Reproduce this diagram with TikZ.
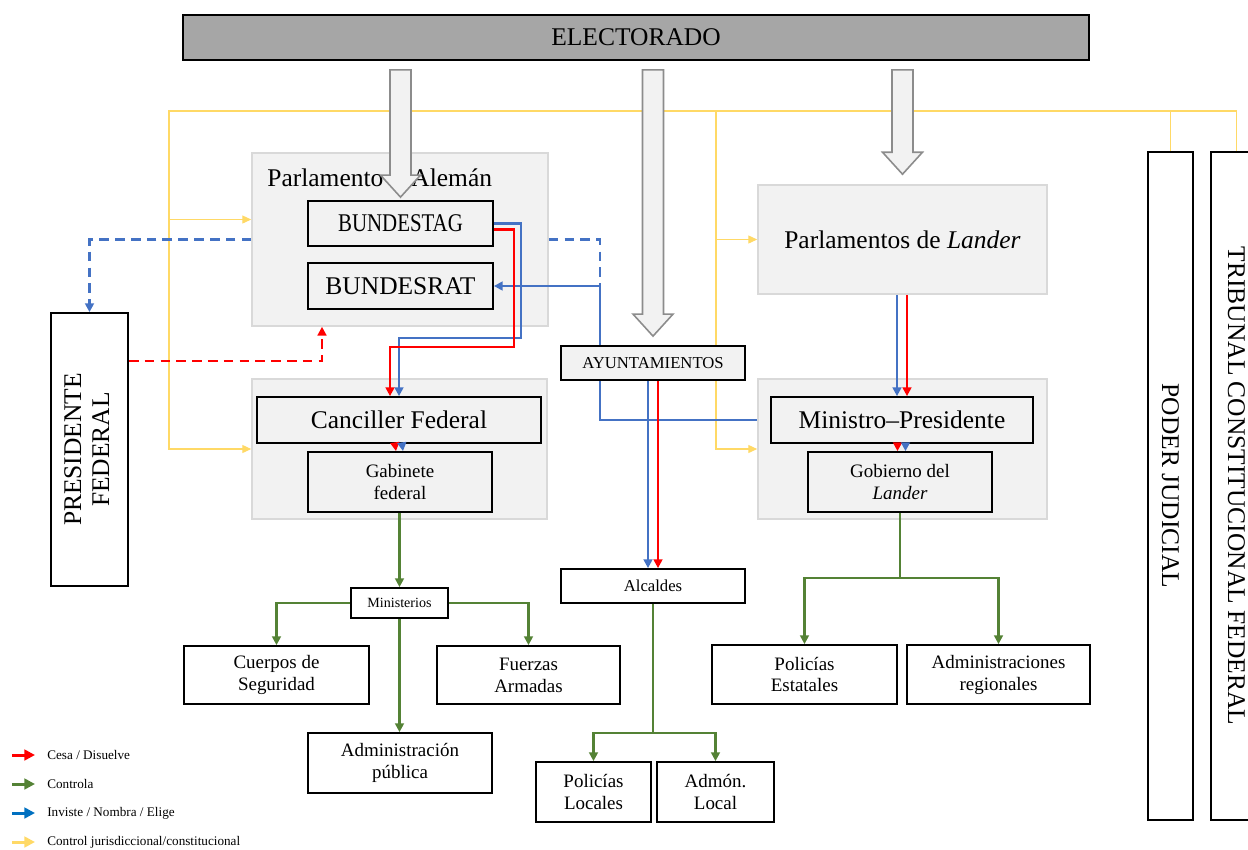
\documentclass[tikz,border=0pt]{standalone}
\usepackage{fontspec}
\setmainfont{Liberation Serif}
\usepackage{graphicx}
\usetikzlibrary{arrows.meta,calc,positioning}

\definecolor{invblue}{HTML}{4472C4}
\definecolor{legblue}{HTML}{0070C0}
\definecolor{cesred}{HTML}{FF0000}
\definecolor{ctlgreen}{HTML}{548235}
\definecolor{jurgold}{HTML}{FFD966}
\definecolor{grpfill}{HTML}{F2F2F2}
\definecolor{grpline}{HTML}{D9D9D9}
\definecolor{elecgray}{HTML}{A6A6A6}
\definecolor{arrgray}{HTML}{8C8C8C}

% hollow block arrow from ELECTORADO down to a node
\newcommand{\bigarrow}[2]{%
  \path ($(#1.north)+(0,-#2)$) coordinate (batip)
        (elect.south -| batip) ++(0,9) coordinate (batop);
  \draw[bigarr] ($(batop)+(-10.5,0)$) |- ($(batip)+(-20,-22)$) -- (batip)
        -- ($(batip)+(20,-22)$) -| ($(batop)+(10.5,0)$) -- cycle;}

\begin{document}
\begin{tikzpicture}[
    x=0.02cm, y=-0.02cm,
    span/.style args={(#1,#2)(#3,#4)}{at={({(#1+#3)/2},{(#2+#4)/2})},
        minimum width={(#3-#1)*0.02cm}, minimum height={(#4-#2)*0.02cm}},
    txtL/.style={font=\fontsize{14.5}{16}\selectfont},
    txtM/.style={font=\fontsize{10.8}{12.5}\selectfont},
    txtS/.style={font=\fontsize{9.5}{11}\selectfont},
    txtXS/.style={font=\fontsize{8}{9}\selectfont},
    grpbox/.style={rectangle, draw=grpline, fill=grpfill, line width=0.9pt, inner sep=0pt, align=center},
    box/.style={rectangle, draw=black, fill=white, line width=1pt, inner sep=0pt, align=center},
    gbox/.style={box, fill=grpfill},
    lnk/.style={line width=1.3pt, -{Triangle[length=5pt,width=5pt]}},
    inv/.style={lnk, draw=invblue},
    ces/.style={lnk, draw=cesred},
    ctl/.style={lnk, draw=ctlgreen},
    jur/.style={line width=0.6pt, draw=jurgold, -{Triangle[length=5pt,width=4.5pt]}},
    dsh/.style={dash pattern=on 5.5pt off 3.5pt},
    bigarr/.style={draw=arrgray, fill=grpfill, line width=0.9pt},
    legtxt/.style={font=\fontsize{7.5}{9}\selectfont, anchor=west, inner sep=0pt},
    legarr/.style={line width=1.7pt, -{Triangle[length=6pt,width=6pt]}}
]
\useasboundingbox (0,0) rectangle (1248,849);

% electorate
\node[box, txtL, fill=elecgray, span={(183,15)(1089,60)}] (elect) {ELECTORADO};

% federal level
\node[grpbox, span={(252,153)(548,326)}] (parl) {};
\node[txtL, anchor=base west, inner sep=0pt] (parltxt) at (267,186) {Parlamento\hspace{1.1em}Alemán};
\node[gbox, txtL, span={(308,201)(493,246)}] (bundestag) {\scalebox{0.82}[1]{BUNDESTAG}};
\node[gbox, txtL, span={(308,263)(493,309)}] (bundesrat) {BUNDESRAT};
\node[grpbox, span={(252,379)(547,519)}] (cancgrp) {};
\node[gbox, txtL, span={(257,397)(541,443)}] (canc) {Canciller Federal};
\node[gbox, txtM, span={(308,452)(492,512)}] (gab) {Gabinete\\federal};
\node[box, txtXS, span={(351,588)(448,618)}] (minis) {Ministerios};
\node[box, txtM, span={(184,646)(369,704)}] (cuerpos) {Cuerpos de\\Seguridad};
\node[box, txtM, span={(437,646)(620,704)}] (fuerzas) {Fuerzas\\Armadas};
\node[box, txtM, span={(308,733)(492,793)}] (admpub) {Administración\\pública};
\node[box, txtL, span={(51,313)(128,586)}] (pres) {\rotatebox{90}{\begin{tabular}{@{}c@{}}PRESIDENTE\\FEDERAL\end{tabular}}};

% local level
\node[box, txtS, span={(561,569)(745,603)}] (alcaldes) {Alcaldes};
\node[box, txtM, span={(536,762)(651,822)}] (polloc) {Policías\\Locales};
\node[box, txtM, span={(657,762)(774,822)}] (admloc) {Admón.\\Local};

% state level
\node[grpbox, txtL, span={(758,185)(1047,294)}] (plander) {Parlamentos de \textit{Lander}};
\node[grpbox, span={(758,379)(1047,519)}] (mingrp) {};
\node[gbox, txtL, span={(771,397)(1033,443)}] (minpres) {Ministro--Presidente};
\node[gbox, txtM, span={(808,452)(992,512)}] (gob) {Gobierno del\\\textit{Lander}};
\node[box, txtM, span={(712,645)(897,704)}] (polest) {Policías\\Estatales};
\node[box, txtM, span={(907,645)(1090,704)}] (admreg) {Administraciones\\regionales};

% judiciary
\node[box, txtL, span={(1148,152)(1193,820)}] (poder) {\rotatebox{-90}{PODER JUDICIAL}};
\node[box, txtL, span={(1211,152)(1262,820)}] (trib) {\rotatebox{-90}{TRIBUNAL CONSTITUCIONAL FEDERAL}};

% control jurisdiccional / constitucional
\coordinate (ylL) at (169,111);
\coordinate (ylM) at (716,111);
\draw[jur] (trib.north) |- (ylL) |- (cancgrp.west);
\draw[jur] ([yshift=0.4cm]ylL |- parl.west) -- ([yshift=0.4cm]parl.west);
\draw[jur, -] (poder.north) -- (poder.north |- ylL);
\draw[jur] (ylM) |- (mingrp.west);
\draw[jur] (ylM |- plander.west) -- (plander.west);

% inviste / elige
\coordinate (jn) at (600,286);
\draw[inv, dsh] (parl.west) -| (pres.north);
\draw[inv, dsh, -] (parl.east) -| (jn);
\draw[inv] (mingrp.west |- minpres.center) -| (jn) -- (bundesrat.east);
\draw[inv] (bundestag.east) -| (521,338) -| (canc.north);
\draw[ces] ([yshift=-0.12cm]bundestag.east) -| (514,347) -| ([xshift=-0.18cm]canc.north);
\draw[ces] ([xshift=-0.08cm]canc.south) -- ([xshift=-0.08cm]gab.north);
\draw[inv] ([xshift=0.06cm]canc.south) -- ([xshift=0.06cm]gab.north);

% disolucion
\coordinate (rd) at (322,361);
\draw[ces, dsh] (pres.east |- rd) -| (parl.south -| rd);

% lander
\draw[inv] ([xshift=-0.1cm]minpres.north |- plander.south) -- ([xshift=-0.1cm]minpres.north);
\draw[ces] ([xshift=0.1cm]minpres.north |- plander.south) -- ([xshift=0.1cm]minpres.north);
\draw[ces] ([xshift=-0.05cm]gob.north |- minpres.south) -- ([xshift=-0.05cm]gob.north);
\draw[inv] ([xshift=0.11cm]gob.north |- minpres.south) -- ([xshift=0.11cm]gob.north);

% ayuntamientos
\node[gbox, txtS, span={(561,346)(745,380)}] (ayunt) {AYUNTAMIENTOS};
\draw[inv] ([xshift=-0.1cm]ayunt.south) -- ([xshift=-0.1cm]alcaldes.north);
\draw[ces] ([xshift=0.1cm]ayunt.south) -- ([xshift=0.1cm]alcaldes.north);

% controla
\draw[ctl] (minis.north |- gab.south) -- (minis.north);
\draw[ctl] (minis.west) -| (cuerpos.north);
\draw[ctl] (minis.east) -| (fuerzas.north);
\draw[ctl] (minis.south) -- (minis.south |- admpub.north);
\coordinate (gsplit) at (900,578);
\draw[ctl] (gob.south) -- (gsplit) -| (polest.north);
\draw[ctl] (gsplit) -| (admreg.north);
\coordinate (asplit) at (653,733);
\draw[ctl] (alcaldes.south) -- (asplit) -| (polloc.north);
\draw[ctl] (asplit) -| (admloc.north);

% votes
\bigarrow{bundestag}{3}
\bigarrow{ayunt}{9}
\bigarrow{plander}{10}

% legend
\node[legtxt] (lg1) at (47,755) {Cesa / Disuelve};
\node[legtxt] (lg2) at (47,784) {Controla};
\node[legtxt] (lg3) at (47,813) {Inviste / Nombra / Elige};
\node[legtxt] (lg4) at (47,842) {Control jurisdiccional/constitucional};
\draw[legarr, cesred] ([xshift=-0.7cm]lg1.west) -- ([xshift=-0.24cm]lg1.west);
\draw[legarr, ctlgreen] ([xshift=-0.7cm]lg2.west) -- ([xshift=-0.24cm]lg2.west);
\draw[legarr, legblue] ([xshift=-0.7cm]lg3.west) -- ([xshift=-0.24cm]lg3.west);
\draw[legarr, jurgold] ([xshift=-0.7cm]lg4.west) -- ([xshift=-0.24cm]lg4.west);
\end{tikzpicture}
\end{document}
